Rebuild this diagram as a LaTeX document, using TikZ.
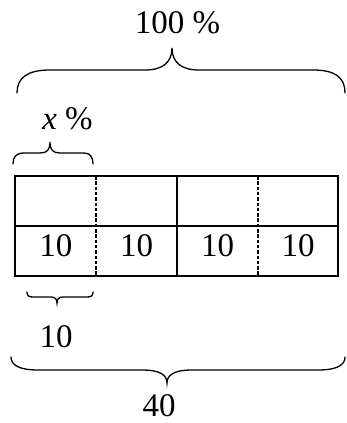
\documentclass[tikz,border=0pt]{standalone}
\usepackage{fontspec}
\setmainfont{Liberation Serif}
\begin{document}
\begin{tikzpicture}[x=1pt,y=-1pt,
  lbl/.style={anchor=base,inner sep=0pt,font=\fontsize{33}{38}\selectfont},
  grid/.style={line width=2pt},
  dline/.style={line width=1.6pt,dash pattern=on 3.5pt off 1.8pt},
  brace/.style={line width=1.3pt,line cap=round}]
\useasboundingbox (0,0) rectangle (347,423);
% table
\coordinate (tl) at (15,176);
\coordinate (br) at (338,276);
\draw[grid] (tl) rectangle (br);
\draw[grid] (15,225.7) -- (338,225.7);
\draw[grid] (177,176) -- (177,276);
\draw[dline] (96,176) -- (96,276);
\draw[dline] (258,176) -- (258,276);
% cell labels
\node[lbl] (c1) at (55.8,256) {10};
\node[lbl] (c2) at (136.7,256) {10};
\node[lbl] (c3) at (217.5,256) {10};
\node[lbl] (c4) at (298,256) {10};
% top big brace
\draw[brace] (17,93) .. controls (17,78) and (27,70) .. (50,70) -- (145,70)
  .. controls (163,70) and (172,62) .. (172,48)
  .. controls (172,62) and (181,70) .. (199,70) -- (313,70)
  .. controls (336,70) and (345,78) .. (345,93);
\node[lbl] (t100) at (177.5,33.5) {100 \%};
% small top brace
\draw[brace] (13,164) .. controls (13,157) and (16,153) .. (24,153) -- (40,153)
  .. controls (47,153) and (50,150) .. (50,142)
  .. controls (50,150) and (53,153) .. (60,153) -- (84,153)
  .. controls (90,153) and (93,157) .. (93,164);
\node[lbl] (tx) at (67.5,129.5) {\textit{x} \%};
% small bottom brace
\draw[brace] (27,292) .. controls (27,296) and (29,297) .. (33,297) -- (51,297)
  .. controls (55,297) and (57,299) .. (57,303)
  .. controls (57,299) and (59,297) .. (63,297) -- (87,297)
  .. controls (91,297) and (93,296) .. (93,292);
\node[lbl] (b10) at (56,347) {10};
% big bottom brace
\draw[brace] (11,357) .. controls (11,365) and (19,370) .. (38,370) -- (142,370)
  .. controls (160,370) and (167,375) .. (167,383)
  .. controls (167,375) and (174,370) .. (192,370) -- (318,370)
  .. controls (337,370) and (345,365) .. (345,357);
\node[lbl] (b40) at (159,416.5) {40};
\end{tikzpicture}
\end{document}
